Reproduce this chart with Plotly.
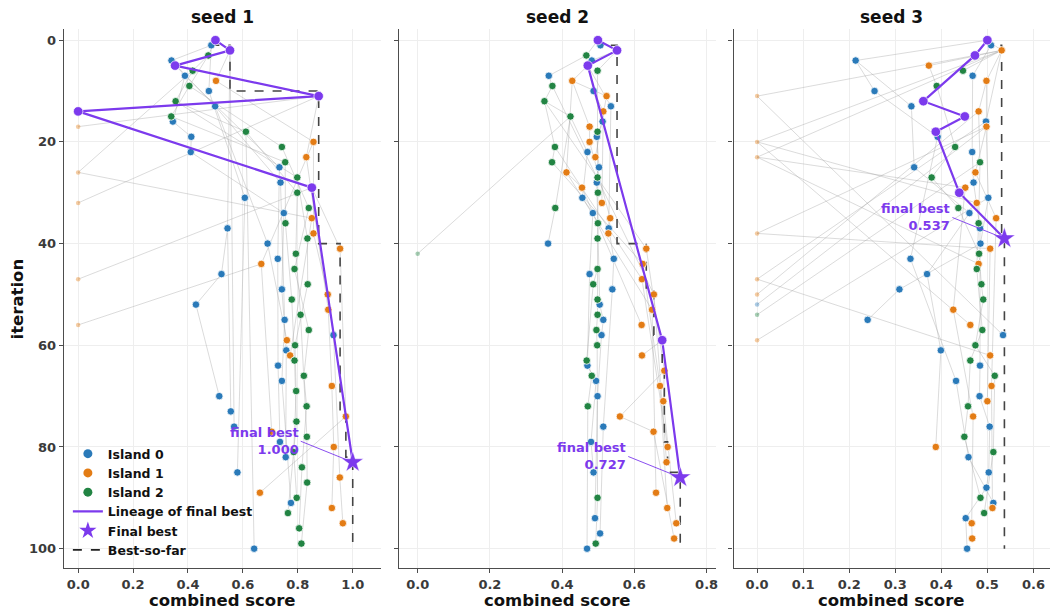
import plotly.graph_objects as go

W, H = 1056, 611
PURPLE = "#7c3aed"
ISLAND_COLORS = ["#2a7ab9", "#e37c15", "#228443"]
ISLAND_NAMES = ["Island 0", "Island 1", "Island 2"]
FONT = "DejaVu Sans"

# ---------------- seed 1 ----------------
S1_ITER = [0, 1, 2, 3, 4, 5, 6, 7, 8, 9, 10, 11, 12, 13, 14, 15, 16, 17, 18, 19,
           20, 21, 22, 23, 24, 25, 26, 27, 28, 29, 30, 31, 32, 33, 34, 35, 36, 37, 38, 39,
           40, 41, 42, 43, 44, 45, 46, 47, 48, 49, 50, 51, 52, 53, 54, 55, 56, 57, 58, 59,
           60, 61, 62, 63, 64, 66, 67, 68, 69, 70, 72, 73, 74, 75, 76, 77, 78, 79, 80, 81,
           82, 83, 84, 85, 86, 87, 89, 90, 91, 92, 93, 95, 96, 99, 100]
S1_SCORE = [0.50, 0.485, 0.553, 0.474, 0.34, 0.353, 0.417, 0.389, 0.502, 0.405, 0.476, 0.876, 0.355, 0.499, 0.0, 0.339, 0.345, 0.0, 0.611, 0.412,
            0.857, 0.742, 0.41, 0.831, 0.754, 0.733, 0.0, 0.798, 0.737, 0.851, 0.798, 0.607, 0.0, 0.84, 0.749, 0.851, 0.755, 0.544, 0.857, 0.835,
            0.69, 0.954, 0.793, 0.727, 0.667, 0.788, 0.522, 0.0, 0.836, 0.742, 0.909, 0.778, 0.429, 0.911, 0.81, 0.752, 0.0, 0.84, 0.93, 0.76,
            0.79, 0.758, 0.772, 0.788, 0.728, 0.822, 0.742, 0.924, 0.794, 0.514, 0.832, 0.556, 0.975, 0.795, 0.568, 0.705, 0.833, 0.735, 0.931, 0.785,
            0.756, 1.0, 0.815, 0.58, 0.953, 0.834, 0.662, 0.796, 0.775, 0.924, 0.764, 0.964, 0.805, 0.813, 0.641]
S1_ISLAND = [2, 0, 1, 2, 0, 1, 2, 0, 1, 2, 0, 1, 2, 0, 1, 2, 0, 1, 2, 0,
             1, 2, 0, 1, 2, 0, 1, 2, 0, 1, 2, 0, 1, 2, 0, 1, 2, 0, 1, 2,
             0, 1, 2, 0, 1, 2, 0, 1, 2, 0, 1, 2, 0, 1, 2, 0, 1, 2, 0, 1,
             2, 0, 1, 2, 0, 2, 0, 1, 2, 0, 2, 0, 1, 2, 0, 1, 2, 0, 1, 2,
             0, 1, 2, 0, 1, 2, 1, 2, 0, 1, 2, 1, 2, 2, 0]
S1_PARENT = [-1, 0, 0, 0, 1, 2, 3, 4, 2, 3, 1, 5, 6, 4, 11, 9, 7, 11, 12, 16,
             8, 9, 19, 11, 15, 7, 6, 12, 13, 14, 18, 10, 11, 21, 22, 26, 24, 2, 20, 27,
             13, 29, 30, 25, 20, 33, 37, 29, 39, 34, 38, 36, 46, 23, 42, 28, 44, 45, 50, 40,
             48, 49, 35, 51, 43, 57, 55, 53, 60, 52, 66, 37, 41, 63, 2, 44, 54, 64, 68, 69,
             61, 29, 72, 31, 58, 78, 74, 81, 67, 80, 75, 86, 84, 87, 18]

# ---------------- seed 2 ----------------
S2_ITER = [0, 1, 2, 3, 4, 5, 6, 7, 8, 9, 10, 11, 12, 13, 14, 15, 16, 17, 18, 19,
           20, 21, 22, 23, 24, 25, 26, 27, 28, 29, 30, 31, 32, 33, 34, 35, 36, 37, 38, 39,
           40, 41, 42, 43, 44, 45, 46, 47, 48, 49, 50, 51, 52, 53, 54, 55, 56, 57, 58, 59,
           60, 62, 63, 64, 65, 66, 67, 68, 70, 71, 72, 74, 76, 77, 79, 80, 83, 85, 86, 89,
           90, 92, 94, 95, 97, 98, 99, 100]
S2_SCORE = [0.499, 0.506, 0.552, 0.467, 0.482, 0.471, 0.498, 0.363, 0.428, 0.373, 0.487, 0.523, 0.351, 0.535, 0.514, 0.423, 0.512, 0.476, 0.498, 0.496,
            0.476, 0.38, 0.47, 0.492, 0.372, 0.502, 0.412, 0.498, 0.496, 0.455, 0.499, 0.456, 0.51, 0.381, 0.485, 0.533, 0.499, 0.529, 0.528, 0.498,
            0.361, 0.633, 0.0, 0.543, 0.623, 0.498, 0.476, 0.621, 0.486, 0.539, 0.654, 0.498, 0.504, 0.649, 0.498, 0.514, 0.62, 0.495, 0.509, 0.677,
            0.497, 0.621, 0.468, 0.47, 0.683, 0.482, 0.494, 0.671, 0.498, 0.68, 0.471, 0.56, 0.514, 0.653, 0.48, 0.692, 0.689, 0.487, 0.727, 0.66,
            0.498, 0.691, 0.491, 0.716, 0.505, 0.71, 0.493, 0.469]
S2_ISLAND = [2, 0, 1, 2, 0, 1, 2, 0, 1, 2, 0, 1, 2, 0, 1, 2, 0, 1, 2, 0,
             1, 2, 0, 1, 2, 0, 1, 2, 0, 1, 2, 0, 1, 2, 0, 1, 2, 0, 1, 2,
             0, 1, 2, 0, 1, 2, 0, 1, 2, 0, 1, 2, 0, 1, 2, 0, 1, 2, 0, 1,
             2, 1, 2, 0, 1, 2, 0, 1, 0, 1, 2, 1, 0, 1, 0, 1, 1, 0, 1, 1,
             2, 1, 0, 1, 0, 1, 2, 0]
S2_PARENT = [-1, 0, 0, 0, 2, 2, 2, 3, 5, 7, 5, 8, 9, 5, 10, 12, 10, 8, 6, 16,
             17, 12, 15, 11, 21, 19, 8, 18, 25, 26, 27, 22, 14, 15, 31, 20, 30, 13, 35, 36,
             33, 12, 15, 37, 24, 39, 34, 21, 45, 43, 9, 45, 28, 26, 51, 52, 29, 54, 55, 5,
             57, 59, 48, 46, 41, 63, 64, 44, 58, 65, 66, 65, 49, 74, 67, 47, 50, 79, 59, 53,
             60, 68, 70, 71, 76, 77, 90, 72]

# ---------------- seed 3 ----------------
S3_ITER = [0, 1, 2, 3, 4, 5, 6, 7, 8, 9, 10, 11, 12, 13, 14, 15, 16, 17, 18, 19,
           20, 21, 22, 23, 24, 25, 26, 27, 28, 29, 30, 31, 32, 33, 34, 35, 36, 37, 38, 39,
           40, 41, 42, 43, 44, 45, 46, 47, 48, 49, 50, 51, 52, 53, 54, 55, 56, 57, 58, 59,
           60, 61, 62, 63, 64, 66, 67, 68, 70, 71, 72, 74, 76, 78, 80, 81, 82, 85, 88, 90,
           91, 92, 93, 94, 95, 98, 100]
S3_SCORE = [0.5, 0.508, 0.531, 0.473, 0.214, 0.373, 0.447, 0.468, 0.498, 0.39, 0.255, 0.0, 0.361, 0.335, 0.481, 0.451, 0.497, 0.498, 0.388, 0.392,
            0.0, 0.43, 0.467, 0.0, 0.484, 0.341, 0.474, 0.379, 0.47, 0.452, 0.439, 0.502, 0.477, 0.437, 0.461, 0.519, 0.481, 0.484, 0.0, 0.537,
            0.485, 0.506, 0.482, 0.333, 0.481, 0.477, 0.369, 0.0, 0.487, 0.309, 0.0, 0.491, 0.0, 0.426, 0.0, 0.24, 0.463, 0.489, 0.534, 0.0,
            0.474, 0.399, 0.506, 0.463, 0.484, 0.516, 0.432, 0.509, 0.483, 0.5, 0.458, 0.469, 0.505, 0.45, 0.388, 0.513, 0.459, 0.503, 0.498, 0.485,
            0.513, 0.511, 0.493, 0.453, 0.466, 0.467, 0.456]
S3_ISLAND = [2, 0, 1, 2, 0, 1, 2, 0, 1, 2, 0, 1, 2, 0, 1, 2, 0, 1, 2, 0,
             1, 2, 0, 1, 2, 0, 1, 2, 0, 1, 2, 0, 1, 2, 0, 1, 2, 0, 1, 2,
             0, 1, 2, 0, 1, 2, 0, 1, 2, 0, 1, 2, 0, 1, 2, 0, 1, 2, 0, 1,
             2, 0, 1, 2, 0, 2, 0, 1, 0, 1, 2, 1, 0, 2, 1, 2, 0, 0, 0, 2,
             0, 1, 2, 0, 1, 1, 0]
S3_PARENT = [-1, 0, 0, 0, 0, 2, 2, 1, 2, 5, 4, 2, 3, 4, 8, 12, 2, 8, 15, 10,
             2, 9, 7, 2, 14, 13, 17, 21, 22, 23, 18, 16, 20, 27, 25, 26, 24, 28, 17, 30,
             31, 38, 33, 19, 23, 36, 34, 16, 42, 40, 14, 48, 17, 29, 24, 49, 20, 45, 11, 31,
             51, 46, 47, 57, 37, 60, 43, 35, 64, 41, 63, 53, 70, 72, 61, 66, 67, 76, 85, 78,
             82, 68, 81, 88, 74, 95, 94]

PANELS = [
    ("seed 1", S1_ITER, S1_SCORE, S1_ISLAND, S1_PARENT),
    ("seed 2", S2_ITER, S2_SCORE, S2_ISLAND, S2_PARENT),
    ("seed 3", S3_ITER, S3_SCORE, S3_ISLAND, S3_PARENT),
]
X_TICKS = [[0.0, 0.2, 0.4, 0.6, 0.8, 1.0],
           [0.0, 0.2, 0.4, 0.6, 0.8],
           [0.0, 0.1, 0.2, 0.3, 0.4, 0.5, 0.6]]
Y_TICKS = [0, 20, 40, 60, 80, 100]
X_TITLE = "combined score"
Y_TITLE = "iteration"

# layout geometry (pixels)
X_DOMAINS = [(64, 382), (400, 717), (735, 1052)]
X_RANGES = [[-0.052, 1.104], [-0.051, 0.825], [-0.051, 0.636]]
Y_RANGE = [103.8, -2.2]
Y_DOMAIN = [1 - 568 / H, 1 - 29 / H]

fig = go.Figure()

for k, (title, iters, scores, islands, parents) in enumerate(PANELS):
    xa = "x" if k == 0 else f"x{k+1}"
    ya = "y" if k == 0 else f"y{k+1}"
    idx = {it: j for j, it in enumerate(iters)}

    # parent -> child edges
    ex, ey = [], []
    for j, p in enumerate(parents):
        if p < 0:
            continue
        pj = idx[p]
        ex += [scores[pj], scores[j], None]
        ey += [iters[pj], iters[j], None]
    fig.add_trace(go.Scatter(x=ex, y=ey, mode="lines",
                             line=dict(color="rgba(165,165,165,0.45)", width=0.9),
                             hoverinfo="skip", showlegend=False, xaxis=xa, yaxis=ya))

    # best so far
    best, cur = [], None
    for s in scores:
        cur = s if cur is None else max(cur, s)
        best.append(cur)
    fig.add_trace(go.Scatter(x=best, y=iters, mode="lines",
                             line=dict(color="#444444", width=1.6, dash="dash", shape="hv"),
                             showlegend=False, xaxis=xa, yaxis=ya, hoverinfo="skip"))

    # final best & lineage (walk the parent chain back from the best)
    fb = max(range(len(scores)), key=lambda j: scores[j])
    lin = []
    j = fb
    while True:
        lin.append(j)
        p = parents[j]
        if p < 0:
            break
        j = idx[p]
    lin = lin[::-1]
    lin_set = set(lin)

    # island points
    for isl in range(3):
        sel = [j for j in range(len(iters)) if islands[j] == isl and j not in lin_set]
        nz = [j for j in sel if scores[j] > 0]
        zz = [j for j in sel if scores[j] <= 0]
        fig.add_trace(go.Scatter(x=[scores[j] for j in nz], y=[iters[j] for j in nz], mode="markers",
                                 marker=dict(color=ISLAND_COLORS[isl], size=7.5,
                                             line=dict(color="rgba(255,255,255,0.8)", width=1)),
                                 showlegend=False, xaxis=xa, yaxis=ya))
        fig.add_trace(go.Scatter(x=[scores[j] for j in zz], y=[iters[j] for j in zz], mode="markers",
                                 marker=dict(color=ISLAND_COLORS[isl], size=4.5, opacity=0.4),
                                 showlegend=False, xaxis=xa, yaxis=ya))

    # lineage
    fig.add_trace(go.Scatter(x=[scores[j] for j in lin], y=[iters[j] for j in lin], mode="lines",
                             line=dict(color=PURPLE, width=2.2), showlegend=False,
                             xaxis=xa, yaxis=ya))
    fig.add_trace(go.Scatter(x=[scores[j] for j in lin[:-1]], y=[iters[j] for j in lin[:-1]], mode="markers",
                             marker=dict(color=PURPLE, size=9.5, line=dict(color="rgba(255,255,255,0.7)", width=1)),
                             showlegend=False, xaxis=xa, yaxis=ya))
    fig.add_trace(go.Scatter(x=[scores[fb]], y=[iters[fb]], mode="markers",
                             marker=dict(color=PURPLE, size=16, symbol="star",
                                         line=dict(color="rgba(255,255,255,0.6)", width=0.8)),
                             showlegend=False, xaxis=xa, yaxis=ya))
    fig.add_annotation(x=scores[fb], y=iters[fb], xref=xa, yref=ya,
                       text=f"final best<br>{scores[fb]:.3f}",
                       showarrow=True, arrowhead=0, arrowwidth=0.9, arrowcolor=PURPLE,
                       ax=-52, ay=-21, xanchor="right", yanchor="middle", align="right",
                       font=dict(family=FONT, size=13, color=PURPLE, weight="bold"))

    # axes
    d0, d1 = X_DOMAINS[k]
    axis_common = dict(showline=True, linecolor="#4d4d4d", linewidth=1.3, ticks="outside",
                       ticklen=4, tickcolor="#4d4d4d", showgrid=True, gridcolor="#eeeeee",
                       gridwidth=1, zeroline=False,
                       tickfont=dict(family=FONT, size=13, color="#3a3a3a", weight="bold"))
    fig.layout[("xaxis" if k == 0 else f"xaxis{k+1}")] = dict(
        domain=[d0 / W, d1 / W], range=X_RANGES[k], anchor=ya,
        tickvals=X_TICKS[k], ticktext=[f"{v:.1f}" for v in X_TICKS[k]],
        **axis_common)
    fig.layout[("yaxis" if k == 0 else f"yaxis{k+1}")] = dict(
        domain=Y_DOMAIN, range=Y_RANGE, anchor=xa, tickvals=Y_TICKS,
        showticklabels=(k == 0), **axis_common)

    fig.add_annotation(x=(d0 + d1) / 2 / W, y=1 - 17 / H, xref="paper", yref="paper",
                       text=title, showarrow=False, xanchor="center", yanchor="middle",
                       font=dict(family=FONT, size=17, color="#111", weight="bold"))
    fig.add_annotation(x=(d0 + d1) / 2 / W, y=1 - 600 / H, xref="paper", yref="paper",
                       text=X_TITLE, showarrow=False, xanchor="center", yanchor="middle",
                       borderpad=0,
                       font=dict(family=FONT, size=16.5, color="#111", weight="bold"))

fig.add_annotation(x=18 / W, y=(Y_DOMAIN[0] + Y_DOMAIN[1]) / 2, xref="paper", yref="paper",
                   text=Y_TITLE, showarrow=False, textangle=-90, xanchor="center", yanchor="middle",
                   borderpad=0,
                   font=dict(family=FONT, size=16.5, color="#111", weight="bold"))

# legend entries (drawn in panel 1)
for isl in range(3):
    fig.add_trace(go.Scatter(x=[None], y=[None], mode="markers", name=ISLAND_NAMES[isl],
                             marker=dict(color=ISLAND_COLORS[isl], size=9), xaxis="x", yaxis="y"))
fig.add_trace(go.Scatter(x=[None], y=[None], mode="lines", name="Lineage of final best",
                         line=dict(color=PURPLE, width=2.2), xaxis="x", yaxis="y"))
fig.add_trace(go.Scatter(x=[None], y=[None], mode="markers", name="Final best",
                         marker=dict(color=PURPLE, size=13, symbol="star"), xaxis="x", yaxis="y"))
fig.add_trace(go.Scatter(x=[None], y=[None], mode="lines", name="Best-so-far",
                         line=dict(color="#222", width=1.6, dash="dash"), xaxis="x", yaxis="y"))

fig.update_layout(
    width=W, height=H,
    margin=dict(l=0, r=0, t=0, b=0),
    paper_bgcolor="white", plot_bgcolor="white",
    font=dict(family=FONT, color="#111"),
    legend=dict(x=68 / W, y=1 - 439 / H, xanchor="left", yanchor="top",
                bgcolor="rgba(255,255,255,0)", borderwidth=0,
                font=dict(family=FONT, size=12.5, color="#111", weight="bold"),
                tracegroupgap=0, itemwidth=30),
    hovermode=False,
)

fig.write_html("out.html")
